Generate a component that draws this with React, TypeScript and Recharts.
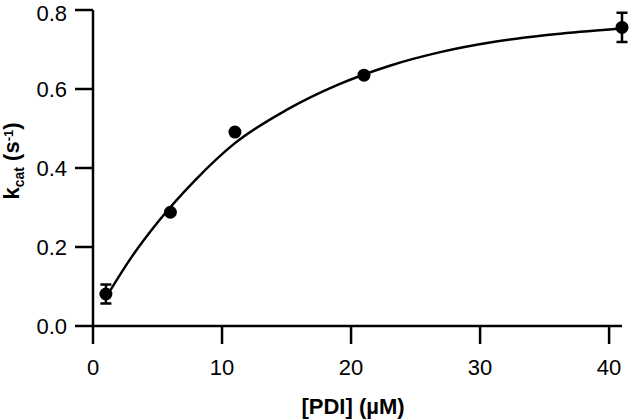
import { ComposedChart, Scatter, Line, XAxis, YAxis, ErrorBar } from 'recharts';

// measured points: [PDI] (µM) vs kcat (s^-1)
const concentrations = [1, 6, 11, 21, 41];
const kcatValues = [0.081, 0.288, 0.491, 0.635, 0.756];
const kcatErrors = [0.024, 0, 0, 0, 0.037];

// fitted curve
const fitX = [1, 3, 5, 8, 11, 15, 19, 23, 27, 31, 35, 39, 41];
const fitY = [0.072, 0.175, 0.262, 0.372, 0.463, 0.547, 0.611, 0.659, 0.694, 0.719, 0.736, 0.748, 0.753];

const xTicks = [0, 10, 20, 30, 40];
const yTicks = [0, 0.2, 0.4, 0.6, 0.8];

const FONT = '"Liberation Sans", Arial, sans-serif';

const points = concentrations.map((x, i) => ({ x, y: kcatValues[i], err: kcatErrors[i] }));
const fit = fitX.map((x, i) => ({ x, y: fitY[i] }));

const tickStyle = { fontFamily: FONT, fontSize: 22, fill: '#000' };

function Dot(props: any) {
  const { cx, cy } = props;
  return <circle cx={cx} cy={cy} r={6.5} fill="#000" />;
}

function XLabel() {
  return (
    <text x={353} y={406} textAnchor="middle" dominantBaseline="central" fontFamily={FONT} fontSize={22} fontWeight="bold" fill="#000">
      [PDI] (µM)
    </text>
  );
}

function YLabel() {
  return (
    <text
      x={19}
      y={161}
      transform="rotate(-90, 19, 161)"
      textAnchor="middle"
      fontFamily={FONT}
      fontSize={22}
      fontWeight="bold"
      fill="#000"
    >
      k
      <tspan fontSize={14} dy={5}>cat</tspan>
      <tspan dy={-5}> (s</tspan>
      <tspan fontSize={13} dy={-6}>-1</tspan>
      <tspan dy={6}>)</tspan>
    </text>
  );
}

export default function App() {
  return (
    <div style={{ position: 'absolute', left: 0, top: 0, width: 630, height: 419, fontFamily: FONT }}>
      <ComposedChart width={630} height={419} margin={{ top: 10, right: 8, bottom: 0, left: 8 }}>
        <XAxis
          dataKey="x"
          type="number"
          domain={[0, 41]}
          ticks={xTicks}
          tickSize={18}
          tickMargin={15}
          height={93}
          tick={tickStyle}
          axisLine={{ stroke: '#000', strokeWidth: 2.5 }}
          tickLine={{ stroke: '#000', strokeWidth: 2.5 }}
          label={<XLabel />}
        />
        <YAxis
          type="number"
          domain={[0, 0.8]}
          ticks={yTicks}
          tickFormatter={(v: number) => v.toFixed(1)}
          width={85}
          tickSize={18}
          tickMargin={8}
          tick={tickStyle}
          axisLine={{ stroke: '#000', strokeWidth: 2.5 }}
          tickLine={{ stroke: '#000', strokeWidth: 2.5 }}
          label={<YLabel />}
        />
        <Line
          data={fit}
          dataKey="y"
          type="monotone"
          stroke="#000"
          strokeWidth={2.5}
          dot={false}
          activeDot={false}
          isAnimationActive={false}
        />
        <Scatter data={points} dataKey="y" shape={<Dot />} isAnimationActive={false}>
          <ErrorBar dataKey="err" direction="y" width={5.5} stroke="#000" strokeWidth={2.5} />
        </Scatter>
      </ComposedChart>
    </div>
  );
}
